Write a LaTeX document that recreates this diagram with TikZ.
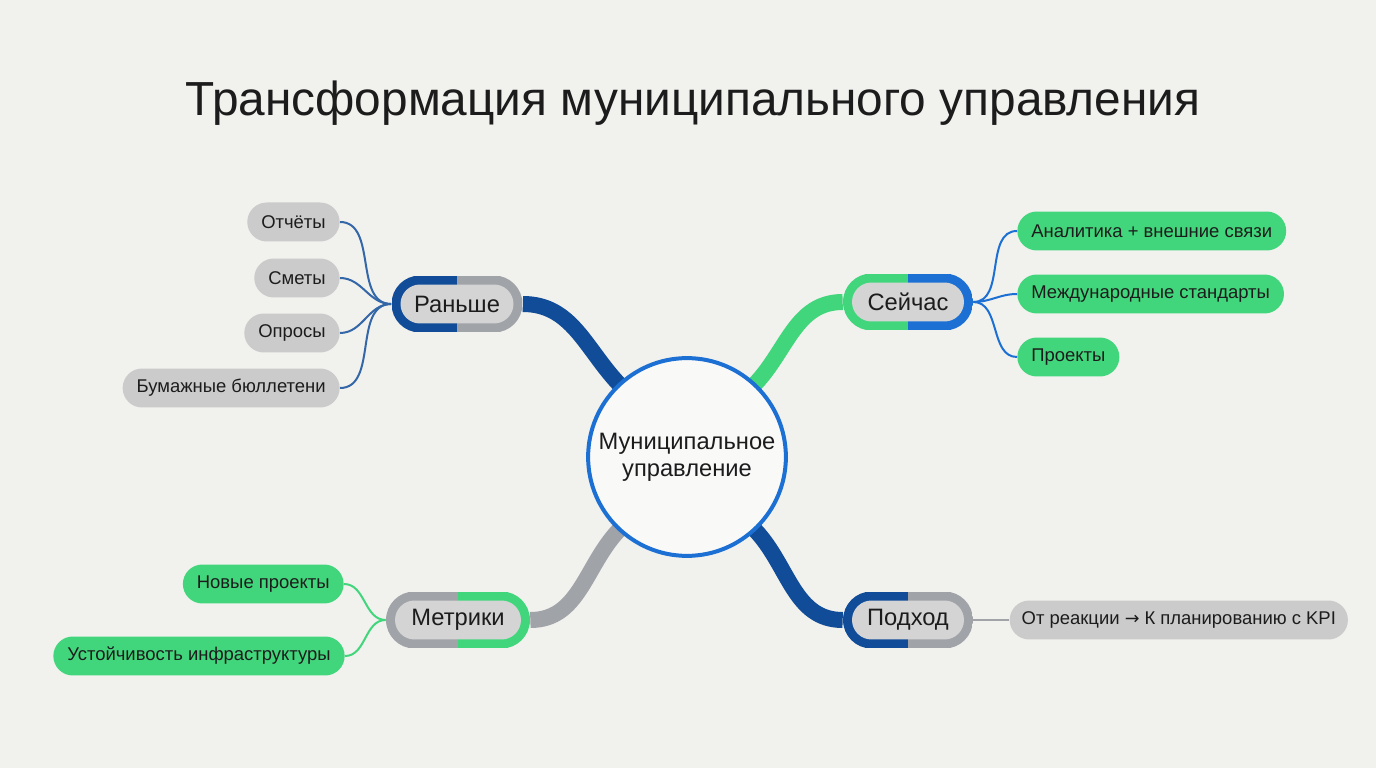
\documentclass[tikz,border=0pt]{standalone}
\usepackage{fontspec}
\setmainfont{Liberation Sans}
\newfontfamily\arrowfont{DejaVu Sans}
\usetikzlibrary{positioning, backgrounds}
\definecolor{paper}{RGB}{241,241,238}
\definecolor{ink}{RGB}{28,28,28}
\definecolor{navy}{RGB}{16,76,152}
\definecolor{sky}{RGB}{28,112,212}
\definecolor{mint}{RGB}{66,214,124}
\definecolor{slate}{RGB}{160,163,168}
\definecolor{pillgray}{RGB}{203,203,203}
\definecolor{capsule}{RGB}{212,212,212}

\begin{document}
\begin{tikzpicture}[
    x=0.02cm, y=0.02cm,
    hub/.style={circle, draw=sky, line width=0.08cm, fill=white!60!paper,
                minimum size=3.92cm, align=center, text=ink,
                font=\fontsize{13.5}{15.5}\selectfont},
    branch/.style 2 args={rectangle, rounded corners=0.57cm, minimum height=1.14cm,
                text=ink, font=\fontsize{13.5}{16}\selectfont,
                path picture={
                  \fill[#1, sharp corners] (path picture bounding box.south west) rectangle (path picture bounding box.north);
                  \fill[#2, sharp corners] (path picture bounding box.south) rectangle (path picture bounding box.north east);
                  \fill[capsule, rounded corners=0.39cm] ([shift={(0.18cm,0.18cm)}]path picture bounding box.south west)
                    rectangle ([shift={(-0.18cm,-0.18cm)}]path picture bounding box.north east);
                }},
    leaf/.style={rectangle, rounded corners=0.39cm, minimum height=0.78cm,
                 inner xsep=0.28cm, text=ink, font=\fontsize{10.5}{13}\selectfont},
    trunk/.style={line width=0.32cm},
    twig/.style={line width=0.04cm}
  ]
  \useasboundingbox (0,0) rectangle (1376,768);

  % title
  \node[anchor=base, text=ink, font=\fontsize{27.2}{33}\selectfont] (title) at (693,652)
    {Трансформация муниципального управления};

  % centre and branches
  \node[hub] (ctr) at (687,311) {Муниципальное\\управление};
  \node[branch={navy}{slate}, minimum width=2.62cm] (before) at (457,464) {Раньше};
  \node[branch={mint}{sky}, minimum width=2.6cm] (now) at (908,466) {Сейчас};
  \node[branch={slate}{mint}, minimum width=2.88cm] (metrics) at (458,148) {Метрики};
  \node[branch={navy}{slate}, minimum width=2.6cm] (approach) at (908,148) {Подход};

  % leaves
  \node[leaf, fill=pillgray, anchor=east] (reports) at (340,546) {Отчёты};
  \node[leaf, fill=pillgray, anchor=east] (budgets) at (340,490) {Сметы};
  \node[leaf, fill=pillgray, anchor=east] (polls) at (340,435) {Опросы};
  \node[leaf, fill=pillgray, anchor=east] (ballots) at (340,380) {Бумажные бюллетени};

  \node[leaf, fill=mint, anchor=west] (analytics) at (1017,537) {Аналитика + внешние связи};
  \node[leaf, fill=mint, anchor=west] (standards) at (1017,474) {Международные стандарты};
  \node[leaf, fill=mint, anchor=west] (projects) at (1017,411) {Проекты};

  \node[leaf, fill=mint, anchor=east] (newproj) at (344,184) {Новые проекты};
  \node[leaf, fill=mint, anchor=east] (resil) at (345,112) {Устойчивость инфраструктуры};

  \node[leaf, fill=pillgray, inner xsep=0.24cm, right=0.72cm of approach] (shift)
    {От реакции {\arrowfont\fontsize{10}{13}\selectfont →} К планированию с KPI};

  \begin{scope}[on background layer]
    \fill[paper] (0,0) rectangle (1376,768);
    % thick links to the centre
    \draw[trunk, navy] (before.east) to[out=0, in=133] (ctr.133) -- (ctr.center);
    \draw[trunk, mint] (now.west) to[out=180, in=47] (ctr.47) -- (ctr.center);
    \draw[trunk, slate] (metrics.east) to[out=0, in=227] (ctr.227) -- (ctr.center);
    \draw[trunk, navy] (approach.west) to[out=180, in=313] (ctr.313) -- (ctr.center);
    % thin links to the leaves
    \foreach \n in {reports, budgets, polls, ballots}
      \draw[twig, navy!85!white] (\n.east) to[out=0, in=180] (before.west);
    \foreach \n in {analytics, standards, projects}
      \draw[twig, sky] (now.east) to[out=0, in=180] (\n.west);
    \foreach \n in {newproj, resil}
      \draw[twig, mint] (\n.east) to[out=0, in=180] (metrics.west);
    \draw[twig, slate] (approach) -- (shift);
  \end{scope}
\end{tikzpicture}
\end{document}
